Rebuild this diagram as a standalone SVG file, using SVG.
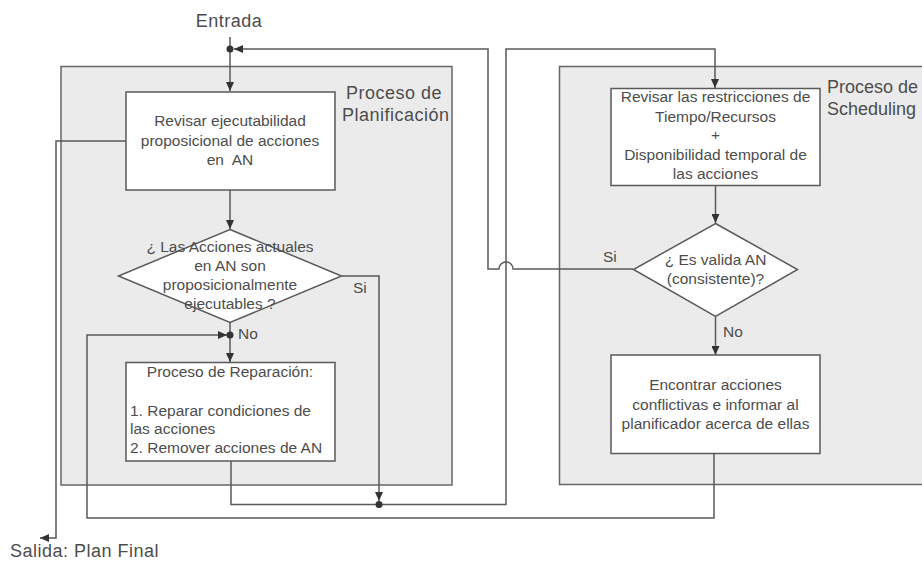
<svg xmlns="http://www.w3.org/2000/svg" width="922" height="561" viewBox="0 0 922 561">
<style>
text{font-family:"Liberation Sans",Arial,sans-serif;fill:#4d4d4d}
.t{font-size:15.5px}
.big{font-size:18px;letter-spacing:0.5px}
.c{text-anchor:middle}
.grp{fill:#ebebeb;stroke:#666;stroke-width:1.5}
.box{fill:#fff;stroke:#5a5a5a;stroke-width:1.5}
.ln{fill:none;stroke:#5a5a5a;stroke-width:1.5}
.dot{fill:#333}
</style>
<defs>
<marker id="ah" markerUnits="userSpaceOnUse" markerWidth="10" markerHeight="8" refX="9" refY="4" orient="auto">
<path d="M0,0 L9,4 L0,8 z" fill="#333"/>
</marker>
</defs>
<rect width="922" height="561" fill="#fff"/>
<g id="planificacion-group">
<rect class="grp" x="61" y="66.5" width="391" height="418.5"/>
<text class="big" x="346" y="99">Proceso de</text>
<text class="big" x="342" y="120.5">Planificación</text>
</g>
<g id="scheduling-group">
<rect class="grp" x="559.5" y="66.5" width="380" height="418"/>
<text class="big" x="827" y="93" style="letter-spacing:0">Proceso de</text>
<text class="big" x="827" y="115" style="letter-spacing:0">Scheduling</text>
</g>
<g id="connectors">
<path class="ln" d="M230,37 V91" marker-end="url(#ah)"/>
<path class="ln" d="M633,269 H513 A7 7 0 0 0 499,269 H488 V49 H234" marker-end="url(#ah)"/>
<path class="ln" d="M230,190 V229" marker-end="url(#ah)"/>
<path class="ln" d="M342,276 H379 V501" marker-end="url(#ah)"/>
<path class="ln" d="M230,323 V362" marker-end="url(#ah)"/>
<path class="ln" d="M231,461 V504.5 H506 V49 H715 V88" marker-end="url(#ah)"/>
<path class="ln" d="M714,453 V518 H87 V335 H227" marker-end="url(#ah)"/>
<path class="ln" d="M126,141 H56 V538 H40" marker-end="url(#ah)"/>
<path class="ln" d="M715.5,186 V223" marker-end="url(#ah)"/>
<path class="ln" d="M715.5,317 V355" marker-end="url(#ah)"/>
<circle class="dot" cx="230" cy="49" r="3.5"/>
<circle class="dot" cx="230" cy="335" r="3.5"/>
<circle class="dot" cx="379" cy="504.5" r="3.5"/>
<text class="t" x="353" y="293">Si</text>
<text class="t" x="238" y="339">No</text>
<text class="t" x="603" y="262">Si</text>
<text class="t" x="723" y="337">No</text>
</g>
<g id="entrada">
<text class="big c" x="229" y="27">Entrada</text>
</g>
<g id="salida">
<text class="big" x="10" y="557">Salida: Plan Final</text>
</g>
<g id="revisar-ejecutabilidad">
<rect class="box" x="126" y="92" width="209" height="98"/>
<text class="t c" x="230" y="126">Revisar ejecutabilidad</text>
<text class="t c" x="230" y="145.5">proposicional de acciones</text>
<text class="t c" x="230" y="165">en&#160; AN</text>
</g>
<g id="decision-ejecutables">
<polygon class="box" points="230,229.5 341.5,276 230,322.5 118.5,276"/>
<text class="t c" x="230" y="252">¿ Las Acciones actuales</text>
<text class="t c" x="230" y="271">en AN son</text>
<text class="t c" x="230" y="289.5">proposicionalmente</text>
<text class="t c" x="230" y="308.5">ejecutables ?</text>
</g>
<g id="reparacion">
<rect class="box" x="126" y="362.5" width="209" height="98.5"/>
<text class="t c" x="230" y="377">Proceso de Reparación:</text>
<text class="t" x="130" y="416">1. Reparar condiciones de</text>
<text class="t" x="130" y="434">las acciones</text>
<text class="t" x="130" y="452.5">2. Remover acciones de AN</text>
</g>
<g id="revisar-restricciones">
<rect class="box" x="611" y="88.5" width="209" height="97"/>
<text class="t c" x="715.5" y="102">Revisar las restricciones de</text>
<text class="t c" x="715.5" y="121.5">Tiempo/Recursos</text>
<text class="t c" x="715.5" y="140">+</text>
<text class="t c" x="715.5" y="159.5">Disponibilidad temporal de</text>
<text class="t c" x="715.5" y="178.5">las acciones</text>
</g>
<g id="decision-valida">
<polygon class="box" points="715.5,223.5 797.5,269.5 715.5,316.5 633.5,269.5"/>
<text class="t c" x="715.5" y="265">¿ Es valida AN</text>
<text class="t c" x="715.5" y="283.5">(consistente)?</text>
</g>
<g id="encontrar-conflictos">
<rect class="box" x="611" y="355" width="209" height="98.5"/>
<text class="t c" x="715.5" y="390">Encontrar acciones</text>
<text class="t c" x="715.5" y="409.5">conflictivas e informar al</text>
<text class="t c" x="715.5" y="428.5">planificador acerca de ellas</text>
</g>
</svg>
